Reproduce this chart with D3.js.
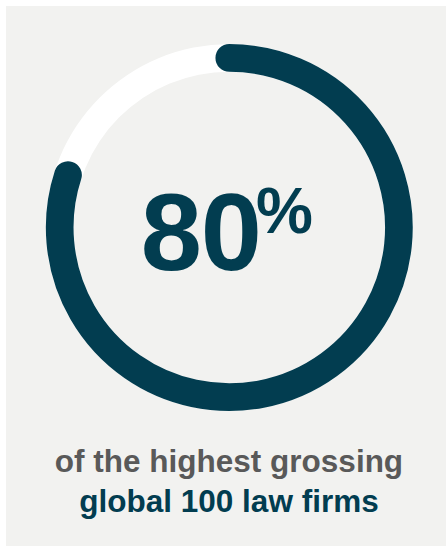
<!DOCTYPE html>
<html>
<head>
<meta charset="utf-8">
<script src="https://cdn.jsdelivr.net/npm/d3@7"></script>
<style>
  html, body { margin: 0; padding: 0; background: #ffffff; }
  svg { display: block; }
</style>
</head>
<body>
<svg id="chart" width="446" height="546"></svg>
<script>
// ---- data ----
const shareValue = [80];          // percent of firms
const shareTotal = [100];
const bigLabel = ["80", "%"];
const captionLines = ["of the highest grossing", "global 100 law firms"];

// ---- setup ----
const W = 446, H = 546;
const svg = d3.select("#chart");
const teal = "#023d50", grey = "#595959", bg = "#f2f2f0";

svg.append("rect").attr("x", 6).attr("y", 6).attr("width", W - 6).attr("height", H - 6).attr("fill", bg);

const cx = 229.3, cy = 227.5;
const rMid = 169.6, thick = 27.7;

const angle = d3.scaleLinear().domain([0, shareTotal[0]]).range([0, 2 * Math.PI]);

const g = svg.append("g").attr("transform", `translate(${cx},${cy})`);

// track
g.append("path")
  .attr("d", d3.arc()({ innerRadius: rMid - thick / 2, outerRadius: rMid + thick / 2, startAngle: 0, endAngle: angle(shareTotal[0]) }))
  .attr("fill", "#ffffff");

// value arc (open path) with round caps
function openArc(a0, a1) {
  const p = d3.path();
  p.arc(0, 0, rMid, a0 - Math.PI / 2, a1 - Math.PI / 2, false);
  return p.toString();
}
g.selectAll("path.val").data(shareValue).join("path")
  .attr("class", "val")
  .attr("d", d => openArc(angle(0), angle(d)))
  .attr("fill", "none")
  .attr("stroke", teal)
  .attr("stroke-width", thick)
  .attr("stroke-linecap", "round");

// big number
const font = "'Liberation Sans', Arial, Helvetica, sans-serif";
svg.append("text")
  .attr("x", 261).attr("y", 270)
  .attr("text-anchor", "end")
  .attr("font-family", font).attr("font-weight", "bold")
  .attr("font-size", 110).attr("letter-spacing", -1)
  .attr("fill", teal)
  .text(bigLabel[0]);
svg.append("text")
  .attr("x", 256).attr("y", 233)
  .attr("font-family", font).attr("font-weight", "bold")
  .attr("font-size", 64)
  .attr("fill", teal)
  .text(bigLabel[1]);

// caption
svg.selectAll("text.cap").data(captionLines).join("text")
  .attr("class", "cap")
  .attr("x", 229).attr("y", (d, i) => 471.5 + i * 40)
  .attr("text-anchor", "middle")
  .attr("font-family", font).attr("font-weight", "bold")
  .attr("font-size", 31.5)
  .attr("fill", (d, i) => i === 0 ? grey : teal)
  .text(d => d);
</script>
</body>
</html>
